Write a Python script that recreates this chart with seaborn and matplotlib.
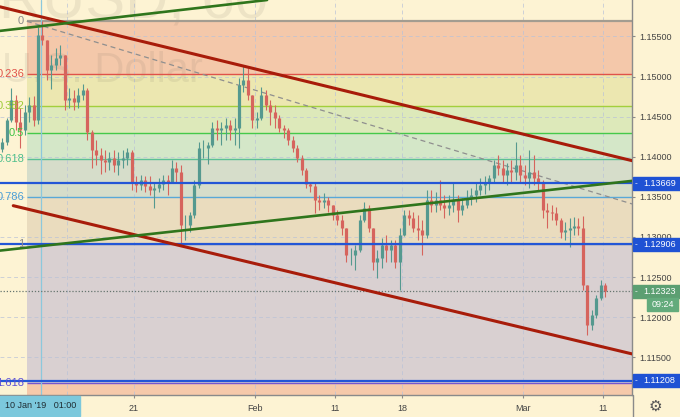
import numpy as np
import pandas as pd
import seaborn as sns
import matplotlib.pyplot as plt
import matplotlib.transforms as mtransforms
from matplotlib.patches import Rectangle
from matplotlib.lines import Line2D

#----------------------------
#DATA  (EURUSD 60, READ OFF THE CHART AS 8H BARS)
#X UNIT = TRADING DAYS FROM MON 7 JAN 2019 00:00
#----------------------------
first_open = 1.1410

close = [
    1.1418, 1.1446, 1.1471, 1.1443, 1.1433, 1.1456, 1.1465, 1.1446, 1.1552, 1.1546,
    1.1508, 1.1514, 1.1523, 1.1527, 1.1471, 1.1473, 1.1468, 1.1477, 1.1483, 1.1431,
    1.1408, 1.1402, 1.1396, 1.1394, 1.1399, 1.1390, 1.1396, 1.1399, 1.1406, 1.1369,
    1.1365, 1.1371, 1.1364, 1.1359, 1.1361, 1.1366, 1.1371, 1.1369, 1.1386, 1.1381,
    1.1315, 1.1315, 1.1327, 1.1365, 1.1411, 1.1411, 1.1415, 1.1436, 1.1433, 1.1436,
    1.1440, 1.1433, 1.1436, 1.1490, 1.1496, 1.1477, 1.1446, 1.1448, 1.1477, 1.1465,
    1.1456, 1.1448, 1.1436, 1.1433, 1.1421, 1.1411, 1.1399, 1.1384, 1.1366, 1.1364,
    1.1346, 1.1344, 1.1346, 1.1340, 1.1327, 1.1321, 1.1311, 1.1278, 1.1278, 1.1284,
    1.1321, 1.1336, 1.1311, 1.1269, 1.1274, 1.1290, 1.1284, 1.1290, 1.1269, 1.1302,
    1.1327, 1.1324, 1.1311, 1.1309, 1.1302, 1.1346, 1.1340, 1.1346, 1.1340, 1.1336,
    1.1340, 1.1346, 1.1334, 1.1340, 1.1349, 1.1352, 1.1359, 1.1365, 1.1369, 1.1374,
    1.1390, 1.1386, 1.1377, 1.1384, 1.1381, 1.1390, 1.1377, 1.1374, 1.1381, 1.1374,
    1.1367, 1.1334, 1.1331, 1.1330, 1.1321, 1.1306, 1.1309, 1.1311, 1.1314, 1.1311,
    1.1240, 1.1190, 1.1203, 1.1224, 1.1240, 1.12323]

high = [
    1.1423, 1.1448, 1.1486, 1.1477, 1.1461, 1.1465, 1.1475, 1.1476, 1.1562, 1.1569,
    1.1546, 1.1527, 1.1536, 1.1539, 1.1527, 1.1486, 1.1483, 1.1486, 1.1491, 1.1486,
    1.1433, 1.1421, 1.1411, 1.1408, 1.1406, 1.1408, 1.1406, 1.1408, 1.1411, 1.1408,
    1.1376, 1.1377, 1.1376, 1.1376, 1.1369, 1.1374, 1.1377, 1.1377, 1.1396, 1.1394,
    1.1390, 1.1327, 1.1331, 1.1371, 1.1418, 1.1421, 1.1418, 1.1443, 1.1446, 1.1443,
    1.1448, 1.1446, 1.1448, 1.1498, 1.1513, 1.1511, 1.1477, 1.1456, 1.1487, 1.1483,
    1.1471, 1.1465, 1.1452, 1.1440, 1.1436, 1.1426, 1.1415, 1.1402, 1.1386, 1.1369,
    1.1367, 1.1352, 1.1355, 1.1350, 1.1340, 1.1334, 1.1327, 1.1311, 1.1286, 1.1290,
    1.1327, 1.1344, 1.1340, 1.1311, 1.1284, 1.1299, 1.1302, 1.1296, 1.1296, 1.1311,
    1.1334, 1.1334, 1.1331, 1.1327, 1.1321, 1.1359, 1.1359, 1.1356, 1.1371, 1.1352,
    1.1352, 1.1367, 1.1352, 1.1349, 1.1359, 1.1361, 1.1367, 1.1374, 1.1376, 1.1377,
    1.1396, 1.1402, 1.1396, 1.1392, 1.1396, 1.1418, 1.1402, 1.1390, 1.1408, 1.1402,
    1.1384, 1.1371, 1.1342, 1.1340, 1.1337, 1.1324, 1.1319, 1.1324, 1.1325, 1.1324,
    1.1326, 1.1240, 1.1209, 1.1228, 1.1246, 1.1243]

low = [
    1.1406, 1.1415, 1.1443, 1.1433, 1.1411, 1.1427, 1.1443, 1.1438, 1.1441, 1.1539,
    1.1496, 1.1485, 1.1508, 1.1514, 1.1458, 1.1461, 1.1458, 1.1461, 1.1471, 1.1421,
    1.1386, 1.1390, 1.1379, 1.1381, 1.1384, 1.1381, 1.1377, 1.1386, 1.1390, 1.1359,
    1.1356, 1.1359, 1.1356, 1.1352, 1.1336, 1.1356, 1.1359, 1.1352, 1.1371, 1.1369,
    1.1290, 1.1296, 1.1306, 1.1324, 1.1361, 1.1399, 1.1391, 1.1412, 1.1421, 1.1415,
    1.1421, 1.1421, 1.1415, 1.1411, 1.1481, 1.1471, 1.1436, 1.1436, 1.1446, 1.1458,
    1.1440, 1.1436, 1.1431, 1.1423, 1.1415, 1.1406, 1.1394, 1.1377, 1.1361, 1.1356,
    1.1330, 1.1334, 1.1336, 1.1331, 1.1321, 1.1315, 1.1302, 1.1269, 1.1265, 1.1259,
    1.1281, 1.1319, 1.1306, 1.1259, 1.1249, 1.1261, 1.1269, 1.1269, 1.1261, 1.1234,
    1.1301, 1.1315, 1.1306, 1.1296, 1.1278, 1.1299, 1.1331, 1.1331, 1.1334, 1.1324,
    1.1327, 1.1331, 1.1319, 1.1327, 1.1336, 1.1340, 1.1344, 1.1352, 1.1354, 1.1359,
    1.1369, 1.1377, 1.1369, 1.1365, 1.1367, 1.1371, 1.1369, 1.1365, 1.1361, 1.1365,
    1.1359, 1.1324, 1.1311, 1.1321, 1.1315, 1.1299, 1.1296, 1.1288, 1.1302, 1.1302,
    1.1234, 1.1178, 1.1184, 1.1199, 1.1221, 1.1225]

BARS_PER_DAY = 3
last_price = 1.12323
last_time = '09:24'

#FIBONACCI RETRACEMENT
fib_start = 2.0
fib_0 = 1.15697
fib_1 = 1.12906
fib_levels = [0, 0.236, 0.382, 0.5, 0.618, 0.786, 1, 1.618, 2.618]
fib_names = ['0', '0.236', '0.382', '0.5', '0.618', '0.786', '1', '1.618']
fib_line_colors = ['#a39c90', '#e0524a', '#a3cf3c', '#45c94a', '#5bbf95', '#58a8d8', '#8a8f99', '#7456d0']
fib_label_colors = ['#8a8a8a', '#e0524a', '#9ccb36', '#3cc243', '#4fbf8c', '#4a9fd6', '#8a8a8a', '#5a4fd6']
fib_fill_colors = ['#f4c8aa', '#ece7b0', '#dde9ba', '#d4e7c8', '#d6ddca', '#eadcbe', '#d9d0d1', '#f6c9aa']

#HORIZONTAL LINES
blue_levels = [1.13669, 1.12906, 1.11208]

#TREND LINES  (DAYS, PRICES)
red_upper_x, red_upper_y = [0.0, 47.2], [1.1587, 1.1395]
red_lower_x, red_lower_y = [0.99, 47.2], [1.1339, 1.1154]
green_upper_x, green_upper_y = [0.0, 19.93], [1.1557, 1.15955]
green_lower_x, green_lower_y = [0.0, 47.2], [1.1283, 1.1370]
fib_trend_x, fib_trend_y = [2.0, 47.2], [1.1569, 1.1341]

#AXES  (THE "14" LABEL IS HIDDEN UNDER THE CURSOR TIME BOX)
tick_days = [5, 10, 19, 25, 30, 39, 45]
tick_labels = ['', '21', 'Feb', '11', '18', 'Mar', '11']
price_ticks = [1.115, 1.12, 1.125, 1.13, 1.135, 1.14, 1.145, 1.15, 1.155]
cursor_day = 3 + 1 / 24
cursor_label = "10 Jan '19   01:00"
XMAX = 47.16
YMIN, YMAX = 1.11029, 1.15955

BG = '#fdf3d3'
UP, DOWN = '#55998f', '#d6645d'

#----------------------------
#CANDLE TABLE
#----------------------------
df = pd.DataFrame({'close': close, 'high': high, 'low': low})
df['open'] = df['close'].shift(1).fillna(first_open)
df['day'] = (np.arange(len(df)) + 0.5) / BARS_PER_DAY
df['high'] = df[['high', 'open', 'close']].max(axis=1)
df['low'] = df[['low', 'open', 'close']].min(axis=1)
df['color'] = np.where(df['close'] >= df['open'], UP, DOWN)

#----------------------------
#FIGURE
#----------------------------
sns.set_theme(style="white")
plt.rcParams['font.family'] = ['Liberation Sans', 'DejaVu Sans']

fig = plt.figure(figsize=(6.8, 4.17), dpi=100)
fig.patch.set_facecolor(BG)
ax = fig.add_axes([0, 22 / 417, 632 / 680, 395 / 417])
ax.set_facecolor(BG)
ax.set_xlim(0, XMAX)
ax.set_ylim(YMIN, YMAX)

#FIB ZONES, LINES, LABELS
fib_prices = [fib_0 - lv * (fib_0 - fib_1) for lv in fib_levels]
for k in range(len(fib_prices) - 1):
    ax.fill_between([fib_start, XMAX], fib_prices[k], fib_prices[k + 1],
                    color=fib_fill_colors[k], lw=0, zorder=1)
for k, name in enumerate(fib_names):
    ax.hlines(fib_prices[k], fib_start, XMAX, color=fib_line_colors[k],
              lw=1.6 if k == 0 else 1.0, zorder=2)
    ax.text(fib_start - 0.2, fib_prices[k], name, ha='right', va='center',
            color=fib_label_colors[k], fontsize=8, zorder=6)

#GRID
for d in tick_days:
    ax.axvline(d, color='#b9c2d8', lw=0.7, ls=(0, (4, 3)), alpha=0.7, zorder=1.5)
for p in price_ticks:
    ax.axhline(p, color='#b9c2d8', lw=0.7, ls=(0, (4, 3)), alpha=0.7, zorder=1.5)

#WATERMARK
ax.text(268 / 632, 1 - 18 / 395, 'EURUSD, 60', transform=ax.transAxes,
        ha='right', va='baseline', fontsize=43, color='#7d7565', alpha=0.12, zorder=1.8)
ax.text(203 / 632, 1 - 82 / 395, 'Euro / U.S. Dollar', transform=ax.transAxes,
        ha='right', va='baseline', fontsize=30, color='#7d7565', alpha=0.12, zorder=1.8)

#CURSOR
ax.axvline(cursor_day, color='#8cc8dc', lw=0.9, zorder=2.2)

#CANDLES
ax.vlines(df['day'], df['low'], df['high'], color=df['color'], lw=0.8, zorder=3)
ax.vlines(df['day'], df[['open', 'close']].min(axis=1), df[['open', 'close']].max(axis=1),
          color=df['color'], lw=2.3, zorder=3)

#HORIZONTAL LINES
for p in blue_levels:
    ax.axhline(p, color='#2356d6', lw=1.6, zorder=3.5)
ax.axhline(last_price, color='#66756f', lw=0.9, ls=(0, (1, 1.5)), zorder=3.5)

#TREND LINES
sns.lineplot(x=red_upper_x, y=red_upper_y, ax=ax, color='#a81c0a', lw=2.2, zorder=4)
sns.lineplot(x=red_lower_x, y=red_lower_y, ax=ax, color='#a81c0a', lw=2.2, zorder=4)
sns.lineplot(x=green_upper_x, y=green_upper_y, ax=ax, color='#2f751c', lw=1.9, zorder=4)
sns.lineplot(x=green_lower_x, y=green_lower_y, ax=ax, color='#2f751c', lw=1.9, zorder=4)
sns.lineplot(x=fib_trend_x, y=fib_trend_y, ax=ax, color='#8f8f8f', lw=0.9,
             linestyle=(0, (4, 3)), zorder=2.5)

#AXES STYLE
for s in ['top', 'left']:
    ax.spines[s].set_visible(False)
for s in ['right', 'bottom']:
    ax.spines[s].set_color('#8a8a8a')
    ax.spines[s].set_linewidth(1.0)
ax.yaxis.tick_right()
ax.set_yticks(price_ticks, [f'{p:.5f}' for p in price_ticks])
ax.set_xticks(tick_days, tick_labels)
ax.tick_params(axis='y', right=True, left=False, length=2.5, width=0.8,
               colors='#8a8a8a', labelcolor='#444444', labelsize=6.5, pad=3)
ax.tick_params(axis='x', bottom=True, length=2.5, width=0.8,
               colors='#8a8a8a', labelcolor='#444444', labelsize=6.5, pad=4)
ax.set_xlabel('')
ax.set_ylabel('')

#PRICE LABEL BOXES
trans = mtransforms.blended_transform_factory(fig.transFigure, ax.transData)
box_h = 13 * (YMAX - YMIN) / 395
for p, col in [(blue_levels[0], '#1f52d4'), (blue_levels[1], '#1f52d4'),
               (blue_levels[2], '#1f52d4'), (last_price, '#5c9f72')]:
    ax.add_patch(Rectangle((633 / 680, p - box_h / 2), 47 / 680, box_h, transform=trans,
                           color=col, clip_on=False, zorder=10))
    ax.text(643 / 680, p, f'{p:.5f}', transform=trans, ha='left', va='center',
            color='white', fontsize=6.5, clip_on=False, zorder=11)
    ax.text(634.5 / 680, p, '-', transform=trans, ha='left', va='center',
            color='white', fontsize=6, clip_on=False, zorder=11)
ax.add_patch(Rectangle((647 / 680, last_price - 1.55 * box_h), 31 / 680, box_h, transform=trans,
                       color='#63ab7c', clip_on=False, zorder=10))
ax.text(662.5 / 680, last_price - 1.05 * box_h, last_time, transform=trans, ha='center',
        va='center', color='white', fontsize=6.5, clip_on=False, zorder=11)

#CURSOR TIME LABEL, GEAR, AXIS SEPARATOR
fig.add_artist(Rectangle((0, 1 / 417), 80 / 680, 20 / 417, transform=fig.transFigure,
                         color='#7cc8dc', zorder=5))
fig.text(41 / 680, 11 / 417, cursor_label, ha='center', va='center', fontsize=6.5,
         color='#1f2d33', zorder=6)
fig.add_artist(Line2D([633 / 680, 633 / 680], [0, 22 / 417], color='#8a8a8a', lw=1.0,
                      transform=fig.transFigure, zorder=5))
fig.text(655 / 680, 11 / 417, '\u2699', ha='center', va='center', fontsize=11,
         color='#555555', family='DejaVu Sans', zorder=6)

fig.savefig('out.png', dpi=100, facecolor=BG)
